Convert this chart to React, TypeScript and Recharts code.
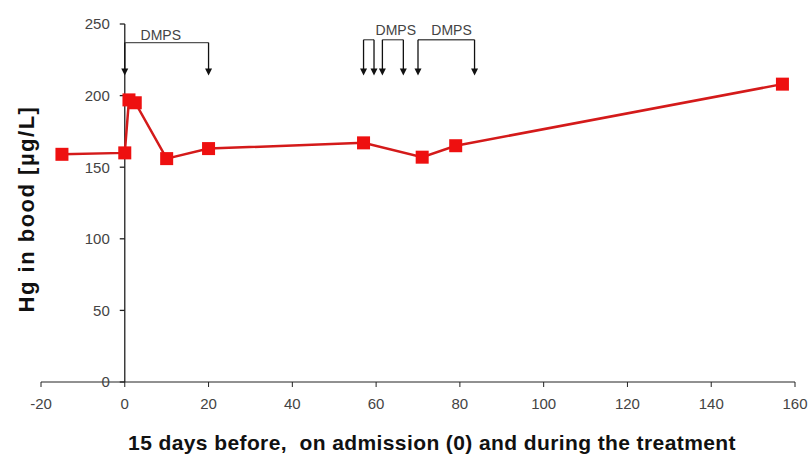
import React from 'react';
import { LineChart, Line, XAxis, YAxis, ReferenceLine, ReferenceDot } from 'recharts';

// Hg in blood over time (days relative to admission)
const days = [-15, 0, 1, 2.5, 10, 20, 57, 71, 79, 157];
const hgValues = [159, 160, 197, 195, 156, 163, 167, 157, 165, 208];

const xTicks = [-20, 0, 20, 40, 60, 80, 100, 120, 140, 160];
const yTicks = [0, 50, 100, 150, 200, 250];

// DMPS courses: start / end day of each bracket
const courseStart = [0, 57, 61.5, 70];
const courseEnd = [20, 59.5, 66.5, 83.5];
const courseTop = [237, 239, 239, 239];
const arrowTip = 214;

const dmpsLabelX = [8.6, 64.7, 78];
const dmpsLabelY = [242, 246, 246];

const data = days.map((d, i) => ({ day: d, hg: hgValues[i] }));

const FONT = '"Liberation Sans", Arial, sans-serif';

const SquareDot = (props: any) => {
  const { cx, cy, index } = props;
  if (cx == null || cy == null) return null;
  return <rect key={index} x={cx - 6.5} y={cy - 6.5} width={13} height={13} fill="#ee1010" />;
};

const Arrow = (props: any) => {
  const { x1, y1, x2, y2 } = props;
  return (
    <g>
      <line x1={x1} y1={y1} x2={x2} y2={y2 - 5} stroke="#111" strokeWidth={1.3} />
      <path d={`M${x2 - 3.5},${y2 - 7} L${x2 + 3.5},${y2 - 7} L${x2},${y2} Z`} fill="#111" />
    </g>
  );
};

export default function App() {
  return (
    <div style={{ position: 'absolute', left: 0, top: 0, background: '#fff' }}>
      <LineChart
        width={811}
        height={458}
        data={data}
        margin={{ top: 24, right: 16, bottom: 6, left: 0 }}
        style={{ fontFamily: FONT }}
      >
        <XAxis
          dataKey="day"
          type="number"
          domain={[-20, 160]}
          ticks={xTicks}
          interval={0}
          height={70}
          stroke="#222"
          tickSize={5}
          tickMargin={11}
          tick={{ fill: '#444', fontSize: 15 }}
          label={{
            value: '15 days before,\u00A0 on admission (0) and during the treatment',
            position: 'insideBottom',
            offset: 2,
            dx: 14,
            style: { fontWeight: 'bold', fontSize: 21, letterSpacing: 0.4, fill: '#111' },
          }}
        />
        <YAxis
          type="number"
          domain={[0, 250]}
          ticks={yTicks}
          width={41}
          axisLine={false}
          tickLine={false}
          tick={false}
          label={{
            value: 'Hg in bood [µg/L]',
            angle: -90,
            position: 'center',
            dx: 6,
            dy: 6,
            style: { fontWeight: 'bold', fontSize: 22, letterSpacing: 1.5, fill: '#111', textAnchor: 'middle' },
          }}
        />

        {/* y axis drawn at day 0 */}
        <ReferenceLine x={0} stroke="#222" strokeWidth={1.3} />
        {yTicks.map((v) => (
          <ReferenceLine
            key={'yt' + v}
            segment={[{ x: -1.2, y: v }, { x: 0, y: v }]}
            stroke="#222"
            strokeWidth={1.3}
            label={{ value: String(v), position: 'left', offset: 10, fill: '#444', fontSize: 15 }}
          />
        ))}

        {/* DMPS brackets */}
        {courseStart.map((s, i) => (
          <ReferenceLine
            key={'top' + i}
            segment={[{ x: s, y: courseTop[i] }, { x: courseEnd[i], y: courseTop[i] }]}
            stroke="#555"
            strokeWidth={1.3}
          />
        ))}
        {courseStart.map((s, i) => (
          <ReferenceLine
            key={'as' + i}
            segment={[{ x: s, y: courseTop[i] }, { x: s, y: arrowTip }]}
            shape={Arrow}
          />
        ))}
        {courseEnd.map((e, i) => (
          <ReferenceLine
            key={'ae' + i}
            segment={[{ x: e, y: courseTop[i] }, { x: e, y: arrowTip }]}
            shape={Arrow}
          />
        ))}
        {dmpsLabelX.map((x, i) => (
          <ReferenceDot
            key={'lbl' + i}
            x={x}
            y={dmpsLabelY[i]}
            r={0}
            fill="none"
            stroke="none"
            label={{ value: 'DMPS', position: 'center', fill: '#444', fontSize: 14 }}
          />
        ))}

        <Line
          type="linear"
          dataKey="hg"
          stroke="#d41a1a"
          strokeWidth={2.5}
          dot={SquareDot}
          activeDot={false}
          isAnimationActive={false}
        />
      </LineChart>
    </div>
  );
}
